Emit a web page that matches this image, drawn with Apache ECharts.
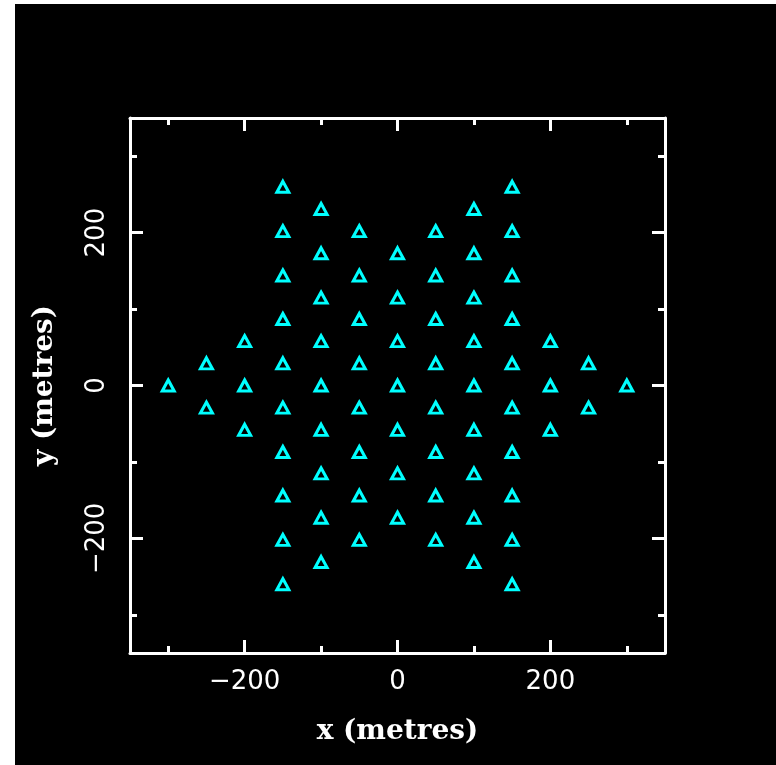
<!DOCTYPE html>
<html>
<head>
<meta charset="utf-8">
<script src="https://cdn.jsdelivr.net/npm/echarts@6/dist/echarts.min.js"></script>
<style>
  html, body { margin: 0; padding: 0; background: #ffffff; width: 776px; height: 765px; overflow: hidden; }
  #chart { position: absolute; left: 15px; top: 4px; width: 761px; height: 761px; background: #000000; }
</style>
</head>
<body>
<div id="chart"></div>
<script>
// Antenna positions (metres)
const pointX = [
  -300,
  -250, -250,
  -200, -200, -200,
  -150, -150, -150, -150, -150, -150, -150, -150, -150, -150,
  -100, -100, -100, -100, -100, -100, -100, -100, -100,
  -50, -50, -50, -50, -50, -50, -50, -50,
  0, 0, 0, 0, 0, 0, 0,
  50, 50, 50, 50, 50, 50, 50, 50,
  100, 100, 100, 100, 100, 100, 100, 100, 100,
  150, 150, 150, 150, 150, 150, 150, 150, 150, 150,
  200, 200, 200,
  250, 250,
  300
];
const pointY = [
  0,
  29, -29,
  58, 0, -58,
  260, 202, 144, 87, 29, -29, -87, -144, -202, -260,
  231, 173, 115, 58, 0, -58, -115, -173, -231,
  202, 144, 87, 29, -29, -87, -144, -202,
  173, 115, 58, 0, -58, -115, -173,
  202, 144, 87, 29, -29, -87, -144, -202,
  231, 173, 115, 58, 0, -58, -115, -173, -231,
  260, 202, 144, 87, 29, -29, -87, -144, -202, -260,
  58, 0, -58,
  29, -29,
  0
];
const axisMin = -350;
const axisMax = 350;
const majorTicks = [-200, 0, 200];
const minorTicks = [-300, -100, 100, 300];
const xTitle = 'x (metres)';
const yTitle = 'y (metres)';

const data = pointX.map((x, i) => [x, pointY[i]]);
const minus = v => String(v).replace('-', '\u2212');
const white = '#ffffff';
const labelFont = { color: white, fontFamily: 'DejaVu Sans', fontSize: 26, fontWeight: 500 };
const nameFont = { color: white, fontFamily: 'DejaVu Serif', fontWeight: 'bold', fontSize: 28 };

function makeAxes(isX) {
  const posA = isX ? 'bottom' : 'left';
  const posB = isX ? 'top' : 'right';
  const base = { type: 'value', min: axisMin, max: axisMax, splitLine: { show: false } };
  const major = {
    ...base, position: posA,
    axisLine: { show: true, onZero: false, lineStyle: { color: white, width: 3 } },
    axisTick: { show: true, inside: true, length: 13, customValues: majorTicks, lineStyle: { color: white, width: 3 } },
    axisLabel: { show: true, customValues: majorTicks, formatter: minus, margin: isX ? 16 : 20,
                 rotate: isX ? 0 : 90, ...labelFont },
    name: isX ? xTitle : yTitle,
    nameLocation: 'middle',
    nameGap: isX ? 65 : 71,
    nameRotate: isX ? 0 : 90,
    nameTextStyle: nameFont
  };
  const minorA = {
    ...base, position: posA,
    axisLine: { show: false, onZero: false },
    axisTick: { show: true, inside: true, length: 7, customValues: minorTicks, lineStyle: { color: white, width: 3 } },
    axisLabel: { show: false }
  };
  const majorB = {
    ...base, position: posB,
    axisLine: { show: true, onZero: false, lineStyle: { color: white, width: 3 } },
    axisTick: { show: true, inside: true, length: 13, customValues: majorTicks, lineStyle: { color: white, width: 3 } },
    axisLabel: { show: false }
  };
  const minorB = {
    ...base, position: posB,
    axisLine: { show: false, onZero: false },
    axisTick: { show: true, inside: true, length: 7, customValues: minorTicks, lineStyle: { color: white, width: 3 } },
    axisLabel: { show: false }
  };
  return [major, minorA, majorB, minorB];
}

const chart = echarts.init(document.getElementById('chart'), null, { renderer: 'canvas' });
chart.setOption({
  backgroundColor: '#000000',
  animation: false,
  grid: { left: 115, top: 114, width: 535, height: 535, containLabel: false },
  xAxis: makeAxes(true),
  yAxis: makeAxes(false),
  series: [{
    type: 'scatter',
    xAxisIndex: 0,
    yAxisIndex: 0,
    data: data,
    symbol: 'triangle',
    symbolSize: [12, 11],
    itemStyle: { color: 'rgba(0,0,0,0)', borderColor: '#00ffff', borderWidth: 3, opacity: 1 },
    emphasis: { disabled: true }
  }]
});
</script>
</body>
</html>
